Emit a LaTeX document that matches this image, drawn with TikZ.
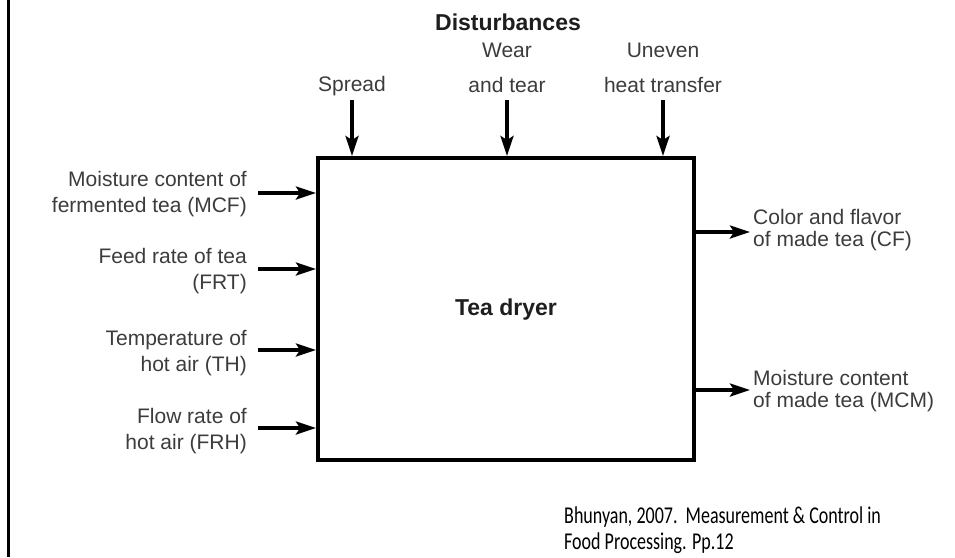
\documentclass[tikz,border=0pt]{standalone}
\usepackage{fontspec}
\setmainfont{Liberation Sans}
\newfontfamily\citefont{Carlito}
\usetikzlibrary{arrows.meta}
\definecolor{labelgray}{HTML}{3C3C3C}
\definecolor{headgray}{HTML}{1E1E1E}
\begin{document}
\begin{tikzpicture}[x=1pt,y=-1pt,
  lbl/.style={text=labelgray,font=\fontsize{21}{26}\selectfont,inner sep=0pt},
  lblr/.style={lbl,align=right,anchor=east},
  lbll/.style={lbl,align=left,anchor=west,font=\fontsize{21}{22}\selectfont},
  lbltop/.style={lbl,align=center,font=\fontsize{21}{35}\selectfont},
  head/.style={text=headgray,font=\bfseries\fontsize{23}{27}\selectfont,inner sep=0pt},
  flow/.style={line width=3.6pt,draw=black,-{Stealth[length=20pt,width=13pt,inset=4pt]}},
  blockbox/.style={draw=black,line width=4pt,minimum width=376pt,minimum height=302pt,inner sep=0pt}]
  \useasboundingbox (0,0) rectangle (955,557);
  \fill[white] (0,0) rectangle (955,557);
  % left frame rule
  \draw[line width=3pt] (8,0) -- (8,557);

  % process block
  \node[blockbox] (dryer) at (506,309) {};
  \node[head] (dryerlbl) at (506,310) {Tea dryer};

  % disturbances
  \node[head] (dist) at (508,22) {Disturbances};
  \node[lbltop] (spread) at (352,86) {Spread};
  \node[lbltop] (wear) at (507,68) {Wear\\and tear};
  \node[lbltop] (uneven) at (663,68) {Uneven\\heat transfer};
  \coordinate (spreadtop) at (352,100);
  \coordinate (weartop) at (507,100);
  \coordinate (uneventop) at (663,100);
  \draw[flow] (spreadtop) -- (spreadtop |- dryer.north);
  \draw[flow] (weartop) -- (weartop |- dryer.north);
  \draw[flow] (uneventop) -- (uneventop |- dryer.north);

  % inputs
  \node[lblr] (mcf) at (247,194) {Moisture content of\\fermented tea (MCF)};
  \node[lblr] (frt) at (247,271) {Feed rate of tea\\(FRT)};
  \node[lblr] (th) at (247,353) {Temperature of\\hot air (TH)};
  \node[lblr] (frh) at (247,431) {Flow rate of\\hot air (FRH)};
  \coordinate (mcfin) at (258,193);
  \coordinate (frtin) at (258,269);
  \coordinate (thin) at (258,350);
  \coordinate (frhin) at (258,428);
  \draw[flow] (mcfin) -- (mcfin -| dryer.west);
  \draw[flow] (frtin) -- (frtin -| dryer.west);
  \draw[flow] (thin) -- (thin -| dryer.west);
  \draw[flow] (frhin) -- (frhin -| dryer.west);

  % outputs
  \coordinate (cfout) at (750,232);
  \coordinate (mcmout) at (750,390);
  \draw[flow] (cfout -| dryer.east) -- (cfout);
  \draw[flow] (mcmout -| dryer.east) -- (mcmout);
  \node[lbll] (cf) at (753,230) {Color and flavor\\of made tea (CF)};
  \node[lbll] (mcm) at (753,391) {Moisture content\\of made tea (MCM)};

  % reference (set in a vertically stretched face)
  \node[anchor=north west,inner sep=0pt] (cite) at (564,505)
    {\scalebox{1}[1.34]{\citefont\fontsize{18}{19.6}\selectfont
      \begin{tabular}{@{}l@{}}Bhunyan, 2007.\ \ Measurement \& Control in\\Food Processing. Pp.12\end{tabular}}};
\end{tikzpicture}
\end{document}
